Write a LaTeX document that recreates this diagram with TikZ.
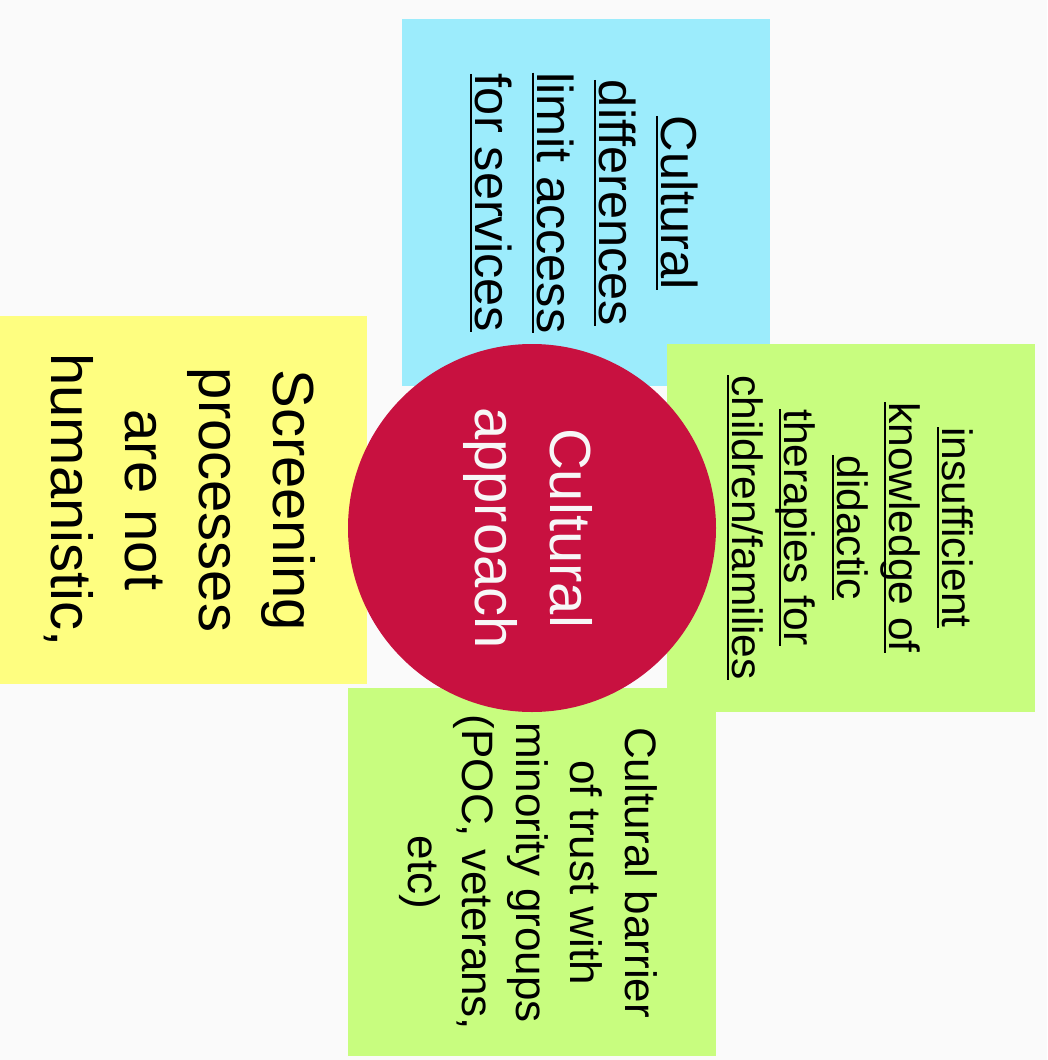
\documentclass[tikz,border=0pt]{standalone}
\usepackage{fontspec}
\setmainfont{Liberation Sans}

\definecolor{paper}{HTML}{FAFAFA}
\definecolor{cardblue}{HTML}{9CECFC}
\definecolor{cardgreen}{HTML}{C8FD7F}
\definecolor{cardyellow}{HTML}{FEFE80}
\definecolor{hubred}{HTML}{C81140}
\definecolor{hubtext}{HTML}{F7F7F7}

% underline a line of text with a rule just below the baseline
\newsavebox\ulbox
\newcommand\ulline[1]{\sbox\ulbox{#1}\rlap{\smash{\rule[-5.5pt]{\wd\ulbox}{2pt}}}\usebox\ulbox}

\begin{document}
\begin{tikzpicture}[x=1pt,y=-1pt,
  card/.style={rectangle, inner sep=0pt, minimum width=368pt, minimum height=368pt},
  label/.style={rotate=-90, inner sep=0pt, align=center, text=black},
  hub/.style={circle, inner sep=0pt, minimum size=368pt, fill=hubred}]

\useasboundingbox (0,0) rectangle (1047,1060);
\fill[paper] (0,0) rectangle (1047,1060);

% sticky notes around the hub
\node[card, fill=cardyellow, minimum width=367pt] (yellowcard) at (183.5,500) {};
\node[card, fill=cardblue, minimum height=367pt] (bluecard) at (586,202.5) {};
\node[card, fill=cardgreen] (rightcard) at (851,528) {};
\node[card, fill=cardgreen] (bottomcard) at (532,872) {};

% central hub
\node[hub] (hub) at (532,528) {};

% note texts
\node[label, font=\fontsize{58}{73.7}\selectfont] (yellowtext) at (179.8,500)
  {Screening\\processes\\are not\\humanistic,};
\node[label, font=\fontsize{50.5}{62.3}\selectfont] (bluetext) at (586.5,203)
  {\ulline{Cultural}\\\ulline{differences}\\\ulline{limit access}\\\ulline{for services}};
\node[label, font=\fontsize{42.5}{52.5}\selectfont] (righttext) at (852.2,527.5)
  {\ulline{insufficient}\\\ulline{knowledge of}\\\ulline{didactic}\\\ulline{therapies for}\\\ulline{children/families}};
\node[label, font=\fontsize{44}{54.25}\selectfont] (bottomtext) at (527.9,872.5)
  {Cultural barrier\\of trust with\\minority groups\\(POC, veterans,\\etc)};
\node[label, text=hubtext, font=\fontsize{58}{75}\selectfont] (hubtext) at (527.5,528)
  {Cultural\\approach};
\end{tikzpicture}
\end{document}
